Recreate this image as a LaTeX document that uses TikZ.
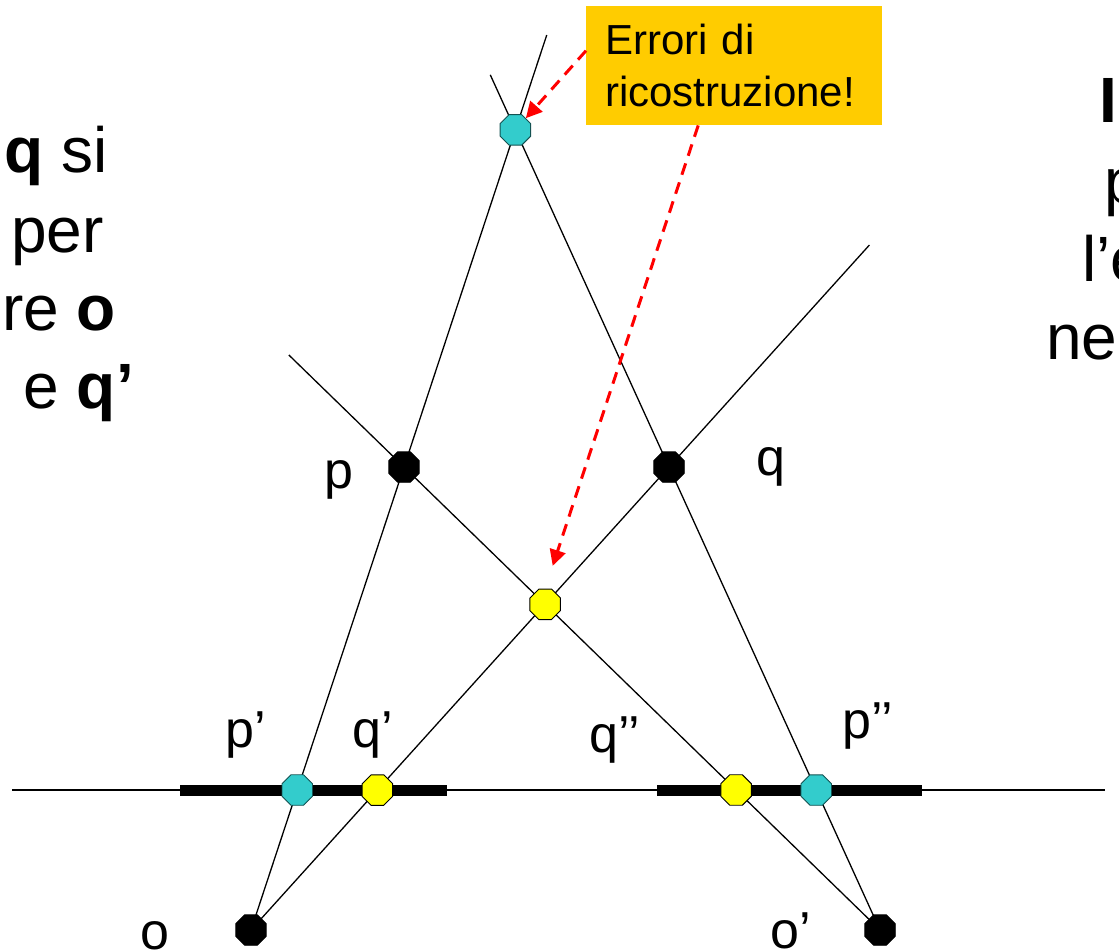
\documentclass[tikz,border=0pt]{standalone}
\usepackage{fontspec}
\setmainfont{Liberation Sans}
\usepackage{xcolor}
\usetikzlibrary{arrows.meta,shapes,positioning,calc,backgrounds}

\definecolor{boxgold}{HTML}{FFCC00}
\definecolor{reccyan}{HTML}{33CCCC}
\definecolor{recyellow}{HTML}{FFFF00}

\tikzset{
  pt/.style={regular polygon,regular polygon sides=8,minimum size=33pt,inner sep=0pt,draw=black,line width=0.9pt},
  cam/.style={pt,fill=black},
  rec/.style={pt,fill=reccyan,draw=black!60!reccyan},
  mid/.style={pt,fill=recyellow},
  ray/.style={line width=1.3pt},
  lbl/.style={font=\fontsize{52}{60}\selectfont,anchor=base west,inner sep=0pt},
  side/.style={font=\fontsize{64}{76}\selectfont,inner sep=0pt},
  errarrow/.style={draw=red,line width=3pt,dash pattern=on 12pt off 8pt,-{Triangle[length=16pt,width=16pt]}},
}

\begin{document}
\begin{tikzpicture}[x=1pt,y=-1pt]
\useasboundingbox (0,0) rectangle (1119,951);

% cameras and points
\node[cam] (o) at (251,930) {};
\node[cam] (o2) at (880,930) {};
\node[cam] (p) at (404,467) {};
\node[cam] (q) at (669,467) {};

% image line
\coordinate (lineL) at (12,790);
\coordinate (lineR) at (1105,790);

% projections
\node[rec] (p1) at (intersection of o.center--p.center and lineL--lineR) {};
\node[mid] (q1) at (intersection of o.center--q.center and lineL--lineR) {};
\node[mid] (q2) at (intersection of o2.center--p.center and lineL--lineR) {};
\node[rec] (p2) at (intersection of o2.center--q.center and lineL--lineR) {};

% reconstructions
\node[rec] (top) at (intersection of o.center--p.center and o2.center--q.center) {};
\node[mid] (cross) at (intersection of o.center--q.center and o2.center--p.center) {};

\begin{scope}[on background layer]
\draw[line width=1.8pt] (lineL) -- (lineR);
\draw[line width=11pt] (180,790) -- (447,790);
\draw[line width=11pt] (657,790) -- (922,790);
\draw[ray] (o.center) -- ($(o)!1.933!(p)$);
\draw[ray] (o2.center) -- ($(o2)!1.847!(q)$);
\draw[ray] (o.center) -- ($(o)!1.4795!(q)$);
\draw[ray] (o2.center) -- ($(o2)!1.242!(p)$);
\end{scope}

% labels
\node[lbl] (plbl) at (324,488) {p};
\node[lbl] (qlbl) at (756,475) {q};
\node[lbl] (p1lbl) at (225,747) {p’};
\node[lbl] (q1lbl) at (352,747) {q’};
\node[lbl] (q2lbl) at (589,752) {q’’};
\node[lbl] (p2lbl) at (842,738) {p’’};
\node[lbl] (olbl) at (140,949) {o};
\node[lbl] (o2lbl) at (770,948) {o’};

% note
\node[fill=boxgold,anchor=north west,minimum width=296pt,minimum height=119pt,text width=258pt,inner xsep=19pt,align=left,font=\fontsize{42}{52}\selectfont] (err) at (586,6) {Errori di\\ricostruzione!};
\draw[errarrow] ([yshift=15pt]err.west) -- (top);
\draw[errarrow,shorten >=24pt] ([xshift=-36pt]err.south) -- (cross.north);

% side text
\node[side,anchor=base east] (l1) at (108,172) {\textbf{q} si};
\node[side,anchor=base east] (l2) at (104,252) {per};
\node[side,anchor=base east] (l3) at (116,330) {re \textbf{o}};
\node[side,anchor=base east] (l4) at (134,408) {e \textbf{q’}};
\node[side,anchor=base west] (r1) at (1099,122) {\textbf{I}};
\node[side,anchor=base west] (r2) at (1104,203) {p};
\node[side,anchor=base west] (r3) at (1082,281) {l’e};
\node[side,anchor=base west] (r4) at (1046,359) {ne};
\end{tikzpicture}
\end{document}
